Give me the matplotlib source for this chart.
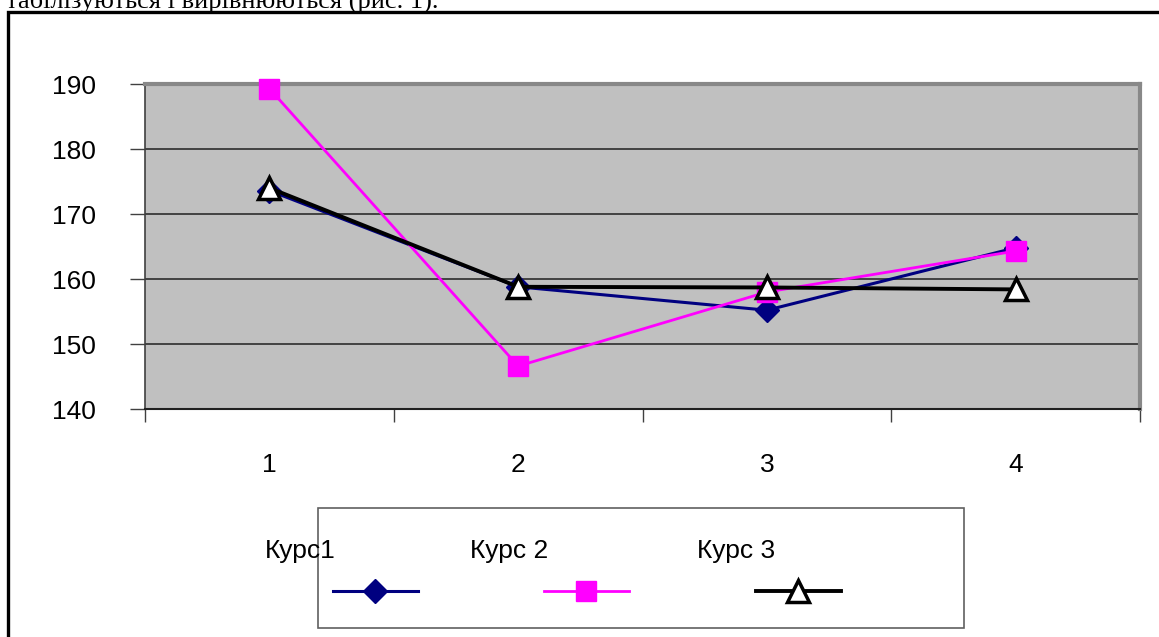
import matplotlib
matplotlib.use("Agg")
import matplotlib.pyplot as plt
from matplotlib.lines import Line2D
from matplotlib.patches import Rectangle

categories = ["1", "2", "3", "4"]
series_names = ["Курс1", "Курс 2", "Курс 3"]
kurs1 = [173.6, 158.8, 155.2, 164.8]
kurs2 = [189.3, 146.6, 158.0, 164.3]
kurs3 = [174.0, 158.8, 158.7, 158.4]
y_ticks = [140, 150, 160, 170, 180, 190]
top_text = "табілізуються і вирівнюються (рис. 1)."

W, H = 1159, 637
DPI = 100
fig = plt.figure(figsize=(W / DPI, H / DPI), dpi=DPI)
fig.patch.set_facecolor("white")

def fx(px):
    return px / W

def fy(py):
    return 1 - py / H

font = ["Liberation Sans", "DejaVu Sans"]
fs = 19

# plot area
left, right, top, bottom = 145, 1140, 84, 409
ax = fig.add_axes([fx(left), fy(bottom), fx(right - left), (bottom - top) / H])
ax.set_facecolor("#C0C0C0")

x = list(range(1, len(categories) + 1))
styles = [
    dict(color="#000080", lw=2.2, marker="D", ms=12.5, mfc="#000080", mec="#000080", mew=1),
    dict(color="#FF00FF", lw=2.0, marker="s", ms=14.5, mfc="#FF00FF", mec="#FF00FF", mew=1),
    dict(color="black", lw=2.8, marker="^", ms=15.5, mfc="white", mec="black", mew=2.5),
]
data = [kurs1, kurs2, kurs3]
for vals, st, name in zip(data, styles, series_names):
    ax.plot(x, vals, label=name, zorder=3, clip_on=False, **st)

ax.set_xlim(0.5, len(categories) + 0.5)
ax.set_ylim(y_ticks[0], y_ticks[-1])
ax.set_yticks(y_ticks)
ax.set_yticklabels([str(t) for t in y_ticks], fontfamily=font, fontsize=fs)
ax.set_xticks(x)
ax.set_xticklabels(categories, fontfamily=font, fontsize=fs)
ax.set_xticks([i + 0.5 for i in range(0, len(categories) + 1)], minor=True)
ax.tick_params(axis="x", which="major", length=0, pad=32)
ax.tick_params(axis="x", which="minor", length=9.5, width=1, color="#404040", direction="out")
ax.tick_params(axis="y", which="major", length=10.5, width=1, color="#404040", direction="out", pad=25)

for t in y_ticks[1:-1]:
    ax.axhline(t, color="#202020", lw=1.1, zorder=1)

ax.spines["top"].set_color("#888888")
ax.spines["top"].set_linewidth(3)
ax.spines["right"].set_color("#888888")
ax.spines["right"].set_linewidth(3)
ax.spines["left"].set_color("#404040")
ax.spines["left"].set_linewidth(1.2)
ax.spines["bottom"].set_color("#202020")
ax.spines["bottom"].set_linewidth(1.5)

# figure border (chart frame)
fig.add_artist(Rectangle((fx(8), fy(700)), fx(1200), (700 - 12) / H, transform=fig.transFigure,
                         fill=False, edgecolor="black", lw=2.4, clip_on=False))

# top text (cut off at the top edge, as in the reference)
fig.text(fx(6), fy(8), top_text, fontfamily=["Liberation Serif", "DejaVu Serif"], fontsize=19,
         ha="left", va="baseline")

# legend box
fig.add_artist(Rectangle((fx(318), fy(628)), fx(964 - 318), (628 - 508) / H, transform=fig.transFigure,
                         fill=True, facecolor="white", edgecolor="#606060", lw=1.2, zorder=5))
label_x = [265, 470, 697]
handle_x = [333, 544, 756]
for name, lx, hx, st in zip(series_names, label_x, handle_x, styles):
    fig.text(fx(lx), fy(551), name, fontfamily=font, fontsize=fs, ha="left", va="center", zorder=6)
    ln = Line2D([fx(hx), fx(hx + 42), fx(hx + 85)], [fy(591)] * 3, transform=fig.transFigure,
                markevery=[1], zorder=6, **st)
    fig.add_artist(ln)

fig.savefig("out.png", dpi=DPI)
